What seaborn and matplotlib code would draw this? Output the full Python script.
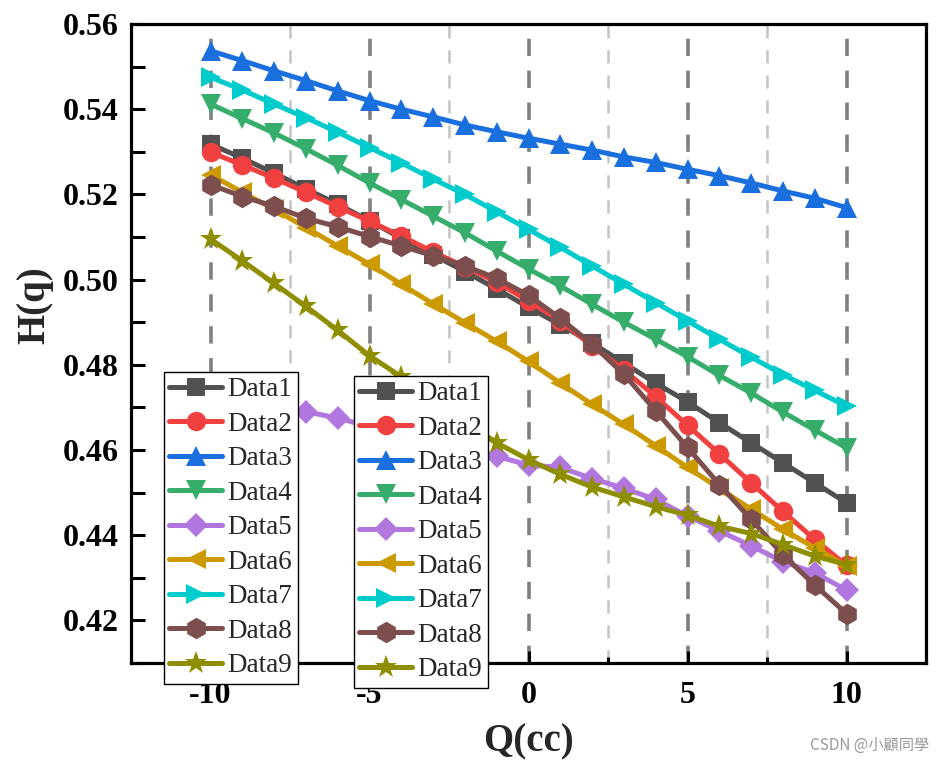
import numpy as np
import pandas as pd
import matplotlib
matplotlib.use("Agg")
import matplotlib.pyplot as plt
import seaborn as sns
from matplotlib.ticker import MultipleLocator, FormatStrFormatter

# q values and the nine H(q) series
q = list(range(-10, 11))

data1 = [0.5318, 0.5285, 0.5250, 0.5213, 0.5177, 0.5138, 0.5097, 0.5058, 0.5019, 0.4978, 0.4935,
         0.4894, 0.4851, 0.4804, 0.4757, 0.4713, 0.4664, 0.4617, 0.4570, 0.4523, 0.4476]
data2 = [0.5299, 0.5269, 0.5238, 0.5205, 0.5171, 0.5137, 0.5102, 0.5065, 0.5030, 0.4994, 0.4950,
         0.4903, 0.4844, 0.4788, 0.4725, 0.4658, 0.4591, 0.4523, 0.4456, 0.4390, 0.4329]
data3 = [0.5537, 0.5514, 0.5490, 0.5467, 0.5443, 0.5420, 0.5400, 0.5382, 0.5363, 0.5347, 0.5332,
         0.5318, 0.5304, 0.5288, 0.5275, 0.5259, 0.5244, 0.5227, 0.5208, 0.5191, 0.5169]
data4 = [0.5412, 0.5378, 0.5344, 0.5307, 0.5268, 0.5227, 0.5188, 0.5149, 0.5110, 0.5067, 0.5025,
         0.4985, 0.4942, 0.4900, 0.4860, 0.4819, 0.4775, 0.4734, 0.4689, 0.4647, 0.4605]
data5 = [0.4745, 0.4730, 0.4712, 0.4690, 0.4675, 0.4655, 0.4638, 0.4620, 0.4603, 0.4585, 0.4565,
         0.4559, 0.4533, 0.4510, 0.4484, 0.4445, 0.4410, 0.4375, 0.4338, 0.4312, 0.4271]
data6 = [0.5246, 0.5205, 0.5165, 0.5122, 0.5079, 0.5036, 0.4989, 0.4943, 0.4899, 0.4855, 0.4808,
         0.4757, 0.4707, 0.4660, 0.4610, 0.4559, 0.4510, 0.4461, 0.4414, 0.4370, 0.4328]
data7 = [0.5475, 0.5445, 0.5412, 0.5380, 0.5346, 0.5310, 0.5274, 0.5236, 0.5200, 0.5159, 0.5118,
         0.5076, 0.5032, 0.4989, 0.4946, 0.4903, 0.4860, 0.4818, 0.4777, 0.4740, 0.4703]
data8 = [0.5223, 0.5195, 0.5172, 0.5144, 0.5124, 0.5101, 0.5079, 0.5056, 0.5032, 0.5003, 0.4963,
         0.4909, 0.4848, 0.4778, 0.4692, 0.4606, 0.4519, 0.4437, 0.4354, 0.4283, 0.4216]
data9 = [0.5095, 0.5044, 0.4991, 0.4937, 0.4881, 0.4821, 0.4772, 0.4720, 0.4668, 0.4617, 0.4577,
         0.4543, 0.4513, 0.4490, 0.4467, 0.4447, 0.4421, 0.4404, 0.4378, 0.4351, 0.4331]

names = ["Data1", "Data2", "Data3", "Data4", "Data5", "Data6", "Data7", "Data8", "Data9"]
series = [data1, data2, data3, data4, data5, data6, data7, data8, data9]
colors = ["#515151", "#F14040", "#1A6FDF", "#37AD6B", "#B177DE", "#CC9900", "#00CBCC", "#7D4E4E", "#8E8E00"]
markers = ["s", "o", "^", "v", "D", "<", ">", "h", "*"]
msizes = [13, 14, 15, 15, 12.5, 15, 15, 15.5, 17]

df = pd.DataFrame({"Q": q})
for n, s in zip(names, series):
    df[n] = s

sns.set_style("ticks")
plt.rcParams["font.family"] = ["Liberation Serif", "DejaVu Serif"]
plt.rcParams["lines.scale_dashes"] = False
plt.rcParams["axes.unicode_minus"] = False

# Set the width and height of the figure
fig = plt.figure(figsize=(9.43, 7.65), dpi=100)
ax = fig.add_axes([0.139, 0.1333, 0.843, 0.8353])

# one line per series, markers in the middle of the line
for n, c, m, ms in zip(names, colors, markers, msizes):
    sns.lineplot(data=df, x="Q", y=n, color=c, marker=m, markersize=ms, markeredgewidth=0,
                 linewidth=3.6, label=n, ax=ax, legend=False)

ax.set_xlim(-12.5, 12.5)
ax.set_ylim(0.41, 0.56)
ax.xaxis.set_major_locator(MultipleLocator(5))
ax.xaxis.set_minor_locator(MultipleLocator(2.5))
ax.yaxis.set_major_locator(MultipleLocator(0.02))
ax.yaxis.set_minor_locator(MultipleLocator(0.01))
ax.yaxis.set_major_formatter(FormatStrFormatter("%.2f"))

# dashed vertical grid, darker on the major ticks
ax.set_axisbelow(True)
ax.xaxis.grid(True, which="major", color="#808080", linewidth=2.6, linestyle=(0, (12.5, 10.5)))
ax.xaxis.grid(True, which="minor", color="#C4C4C4", linewidth=1.8, linestyle=(0, (9.5, 8.5)))

for sp in ax.spines.values():
    sp.set_visible(True)
    sp.set_linewidth(2.3)
    sp.set_color("black")

ax.tick_params(axis="both", which="both", direction="in", width=2.2, colors="black",
               top=False, right=False)
ax.tick_params(axis="y", which="both", length=10, pad=9)
ax.tick_params(axis="x", which="major", length=9, pad=13)
ax.tick_params(axis="x", which="minor", length=4)
for lab in ax.get_xticklabels() + ax.get_yticklabels():
    lab.set_fontsize(23)
    lab.set_fontweight("bold")

ax.set_xlabel("Q(cc)", fontsize=28, fontweight="bold")
ax.set_ylabel("H(q)", fontsize=28, fontweight="bold")
ax.xaxis.set_label_coords(0.5, -0.124)
ax.xaxis.label.set_va("center")
ax.yaxis.set_label_coords(-0.121, 0.56)
ax.yaxis.label.set_va("center")

# two identical legends side by side
handles, labels = ax.get_legend_handles_labels()
leg_kw = dict(loc="upper left", bbox_transform=fig.transFigure, fontsize=19.5, frameon=True,
              fancybox=False, framealpha=1, edgecolor="black", borderpad=0.2,
              labelspacing=0.35, handlelength=1.95, handletextpad=0.2, borderaxespad=0)
leg1 = ax.legend(handles, labels, bbox_to_anchor=(0.1739, 0.5137), **leg_kw)
leg1.get_frame().set_linewidth(1.0)
ax.add_artist(leg1)
leg2 = ax.legend(handles, labels, bbox_to_anchor=(0.3754, 0.5085), **leg_kw)
leg2.get_frame().set_linewidth(1.0)

fig.text(0.985, 0.026, "CSDN @小顧同學", ha="right", va="center", fontsize=11, color="#9A9A9A",
         family=["Noto Sans CJK TC", "DejaVu Sans"])

plt.savefig("out.png", dpi=100)
